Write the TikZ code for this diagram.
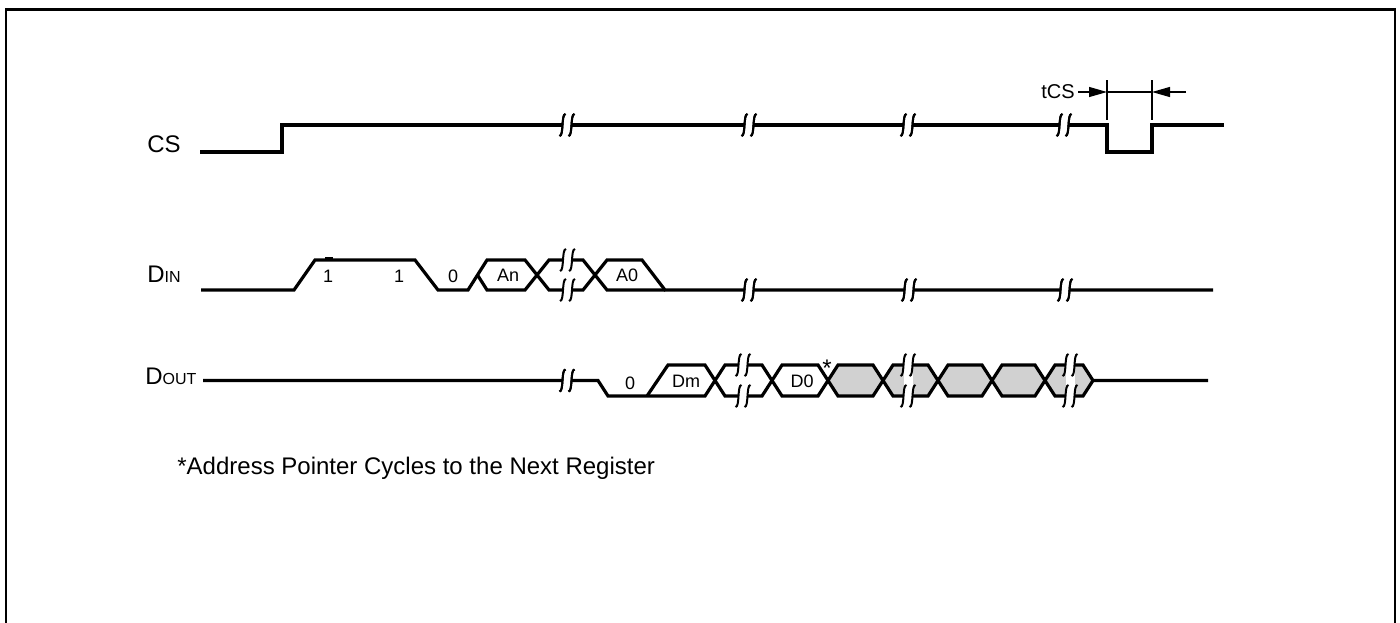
\documentclass[tikz,border=0pt]{standalone}
\usepackage{fontspec}
\setmainfont{Liberation Sans}
\usepackage{tikz}
\usetikzlibrary{arrows.meta}

% break in a trace: x, upper y, lower y
\newcommand\sigbrk[3]{%
  \fill[white] (#1-4.5,#2-4) rectangle (#1+4.5,#3+4);
  \foreach \yy in {#2,#3}{\foreach \xx in {#1-4.5,#1+4.5}{
    \draw[brk] (\xx-3,\yy+11) .. controls (\xx+1.5,\yy+11) and (\xx-1.5,\yy-11) .. (\xx+3,\yy-11);}}}
\newcommand\smallcap[1]{{\fontsize{8}{10}\selectfont #1}}

\begin{document}
\begin{tikzpicture}[x=0.5pt,y=-0.5pt,
  sig/.style={line width=1.6pt},
  brk/.style={line width=1pt},
  fine/.style={line width=0.6pt},
  tarr/.style={fine,-{Triangle[length=9pt,width=5pt]}},
  big/.style={font=\fontsize{12}{14}\selectfont,inner sep=0pt,anchor=base west},
  lab/.style={font=\fontsize{9}{11}\selectfont,inner sep=0pt,anchor=base},
  shade/.style={fill=black!18}]
\useasboundingbox (0,0) rectangle (1400,622);
\draw[line width=1.3pt] (6,640) -- (6,9.5) -- (1395,9.5) -- (1395,640);

% names
\node[big] (cs) at (147,152) {CS};
\node[big] (din) at (147,282) {D\smallcap{IN}};
\node[big] (dout) at (145,384) {D\smallcap{OUT}};

% CS
\draw[sig] (200,152) -- (282,152) -- (282,125) -- (1107,125) -- (1107,152) -- (1152,152) -- (1152,125) -- (1224,125);
\foreach \x in {567,749,908,1064} \sigbrk{\x}{125}{125};

% tCS
\node[font=\fontsize{10}{12}\selectfont,inner sep=1.5pt,anchor=base east] (tcs) at (1078,98) {tCS};
\coordinate (csf) at (1107,92);
\coordinate (csr) at (1152,92);
\coordinate (tcsend) at (1186,92);
\draw[fine] (1107,80) -- (1107,120);
\draw[fine] (1152,80) -- (1152,120);
\draw[fine] (csf) -- (csr);
\draw[tarr] (tcs.east |- csf) -- (csf);
\draw[tarr] (tcsend) -- (csr);

% DIN
\draw[sig] (201,290) -- (294,290) -- (315,260) -- (415,260) -- (438,290) -- (468,290) -- (487,260) -- (525,260) -- (549,290) -- (583,290) -- (607,260) -- (642,260) -- (665,290) -- (1213,290);
\draw[sig] (477.5,275) -- (487,290) -- (525,290) -- (549,260) -- (583,260) -- (607,290) -- (665,290);
\draw[sig] (325,259) -- (333,259);
\sigbrk{567.5}{260}{290}
\foreach \x in {749,909,1065} \sigbrk{\x}{290}{290};
\node[lab] (b1) at (328,282) {1};
\node[lab] (b2) at (399,282) {1};
\node[lab] (b3) at (453,282) {0};
\node[lab] (an) at (508,281) {An};
\node[lab] (a0) at (627,281) {A0};

% DOUT
\foreach \a/\b in {828/883,883/938,938/992,992/1045,1045/1093}
  \fill[shade] (\a,380.5) -- (\a+10,365) -- (\b-10,365) -- (\b,380.5) -- (\b-10,396) -- (\a+10,396) -- cycle;
\draw[sig] (647,396) -- (668,365) -- (705,365) -- (725,396) -- (762,396) -- (782,365) -- (818,365) -- (838,396) -- (873,396) -- (893,365) -- (928,365) -- (948,396) -- (982,396) -- (1002,365) -- (1035,365) -- (1055,396) -- (1083,396) -- (1093,380.5);
\draw[sig] (203,380.5) -- (598,380.5) -- (608,396) -- (705,396) -- (725,365) -- (762,365) -- (782,396) -- (818,396) -- (838,365) -- (873,365) -- (893,396) -- (928,396) -- (948,365) -- (982,365) -- (1002,396) -- (1035,396) -- (1055,365) -- (1083,365) -- (1093,380.5) -- (1208,380.5);
\sigbrk{567}{380.5}{380.5}
\foreach \x in {743,908,1070} \sigbrk{\x}{365}{396};
\node[lab] (c0) at (630,389) {0};
\node[lab] (dm) at (686,387) {Dm};
\node[lab] (d0) at (802,387) {D0};
\node[font=\fontsize{12}{14}\selectfont,inner sep=0pt,anchor=base] (star) at (827,376) {*};

% note
\node[big] (note) at (177,474) {*Address Pointer Cycles to the Next Register};
\end{tikzpicture}
\end{document}
